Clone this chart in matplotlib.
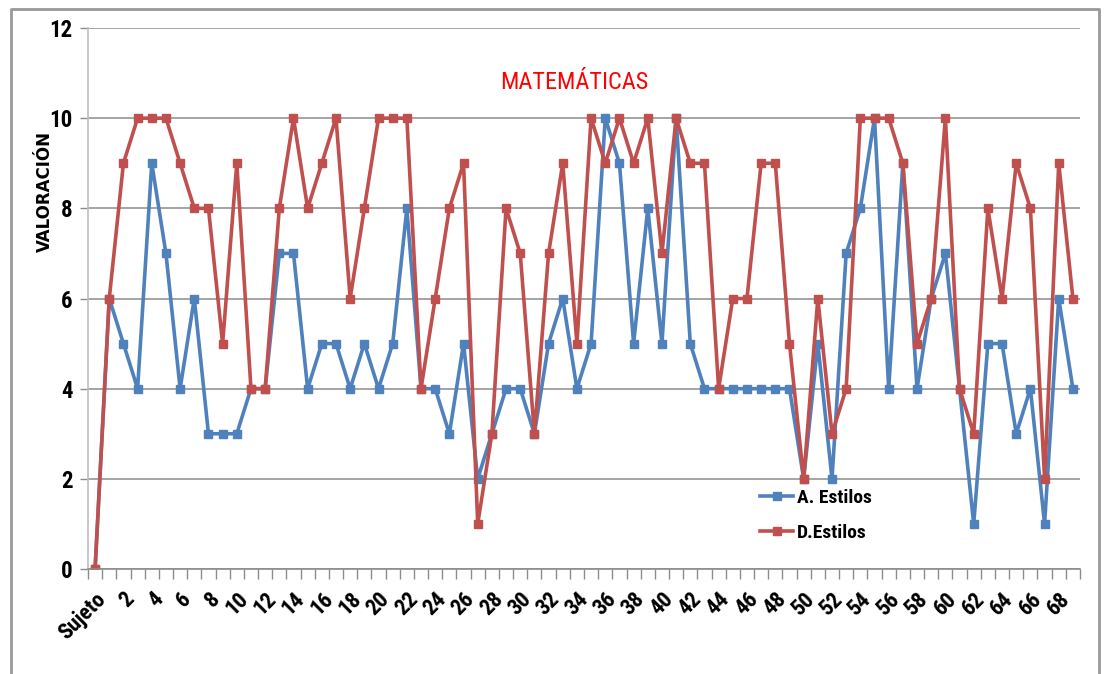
import matplotlib
matplotlib.use("Agg")
import matplotlib.pyplot as plt
from matplotlib.ticker import FixedLocator
from matplotlib import font_manager

# categorias: "Sujeto" + sujetos 1..69
categorias = ["Sujeto"] + [str(i) for i in range(1, 70)]

a_estilos = [0, 6, 5, 4, 9, 7, 4, 6, 3, 3, 3, 4, 4, 7, 7, 4, 5, 5, 4, 5,
             4, 5, 8, 4, 4, 3, 5, 2, 3, 4, 4, 3, 5, 6, 4, 5, 10, 9, 5, 8,
             5, 10, 5, 4, 4, 4, 4, 4, 4, 4, 2, 5, 2, 7, 8, 10, 4, 9, 4, 6,
             7, 4, 1, 5, 5, 3, 4, 1, 6, 4]

d_estilos = [0, 6, 9, 10, 10, 10, 9, 8, 8, 5, 9, 4, 4, 8, 10, 8, 9, 10, 6, 8,
             10, 10, 10, 4, 6, 8, 9, 1, 3, 8, 7, 3, 7, 9, 5, 10, 9, 10, 9, 10,
             7, 10, 9, 9, 4, 6, 6, 9, 9, 5, 2, 6, 3, 4, 10, 10, 10, 9, 5, 6,
             10, 4, 3, 8, 6, 9, 8, 2, 9, 6]

y_ticks = [0, 2, 4, 6, 8, 10, 12]

AZUL = "#4F81BD"
ROJO = "#C0504D"
GRIS = "#8C8C8C"

instaladas = {f.name for f in font_manager.fontManager.ttflist}
FUENTE = [f for f in ["Roboto Condensed", "Liberation Sans Narrow", "Lato"] if f in instaladas] + ["DejaVu Sans"]

fig = plt.figure(figsize=(11.06, 6.74), dpi=100)
W, H = 1106, 674
ax = fig.add_axes([88 / W, 1 - 569 / H, (1080 - 88) / W, (569 - 28) / H])

x = list(range(len(categorias)))
ax.plot(x, a_estilos, color=AZUL, lw=2.6, marker="s", ms=5.5, label="A. Estilos")
ax.plot(x, d_estilos, color=ROJO, lw=2.6, marker="s", ms=5.5, label="D.Estilos")

ax.set_xlim(-0.5, len(categorias) - 0.5)
ax.set_ylim(0, 12)
ax.set_yticks(y_ticks)
ax.set_yticklabels([str(v) for v in y_ticks], family=FUENTE, fontweight="bold", fontsize=16.5)
ax.grid(axis="y", color=GRIS, lw=1.1)
ax.set_axisbelow(True)

# etiquetas cada dos categorias, marcas entre categorias
pares = x[::2]
ax.set_xticks(pares)
ax.set_xticklabels([categorias[i] for i in pares], rotation=45, ha="right",
                   rotation_mode="anchor", family=FUENTE, fontweight="bold", fontsize=16)
ax.tick_params(axis="x", length=0, pad=14)
ax.xaxis.set_minor_locator(FixedLocator([i - 0.5 for i in range(len(categorias) + 1)]))
ax.tick_params(axis="x", which="minor", length=7, color=GRIS, width=1)
ax.tick_params(axis="y", length=6, color=GRIS, width=1, pad=5)

for s in ["top", "right"]:
    ax.spines[s].set_visible(False)
ax.spines["left"].set_color("#BFBFBF")
ax.spines["bottom"].set_color(GRIS)
ax.spines["left"].set_linewidth(1.2)
ax.spines["bottom"].set_linewidth(1.2)

ax.text(0.49, 0.90, "MATEMÁTICAS", transform=ax.transAxes, ha="center", va="center",
        color="#FF0000", fontsize=17.5, family=FUENTE)
fig.text(45 / W, 1 - 191 / H, "VALORACIÓN", rotation=90, ha="center", va="center",
         fontsize=12, fontweight="bold", family="DejaVu Sans")

leg = ax.legend(loc="center left", bbox_to_anchor=(0.67, 0.099), frameon=False,
                prop={"family": FUENTE, "weight": "bold", "size": 14},
                handlelength=1.7, labelspacing=0.85, handletextpad=0.2, borderaxespad=0)

# marco exterior del grafico
fig.add_artist(plt.Line2D([11 / W, 11 / W, 1099 / W, 1099 / W],
                          [0, 1 - 9 / H, 1 - 9 / H, 0], color="#999999", lw=2,
                          transform=fig.transFigure))

fig.savefig("out.png", dpi=100)
